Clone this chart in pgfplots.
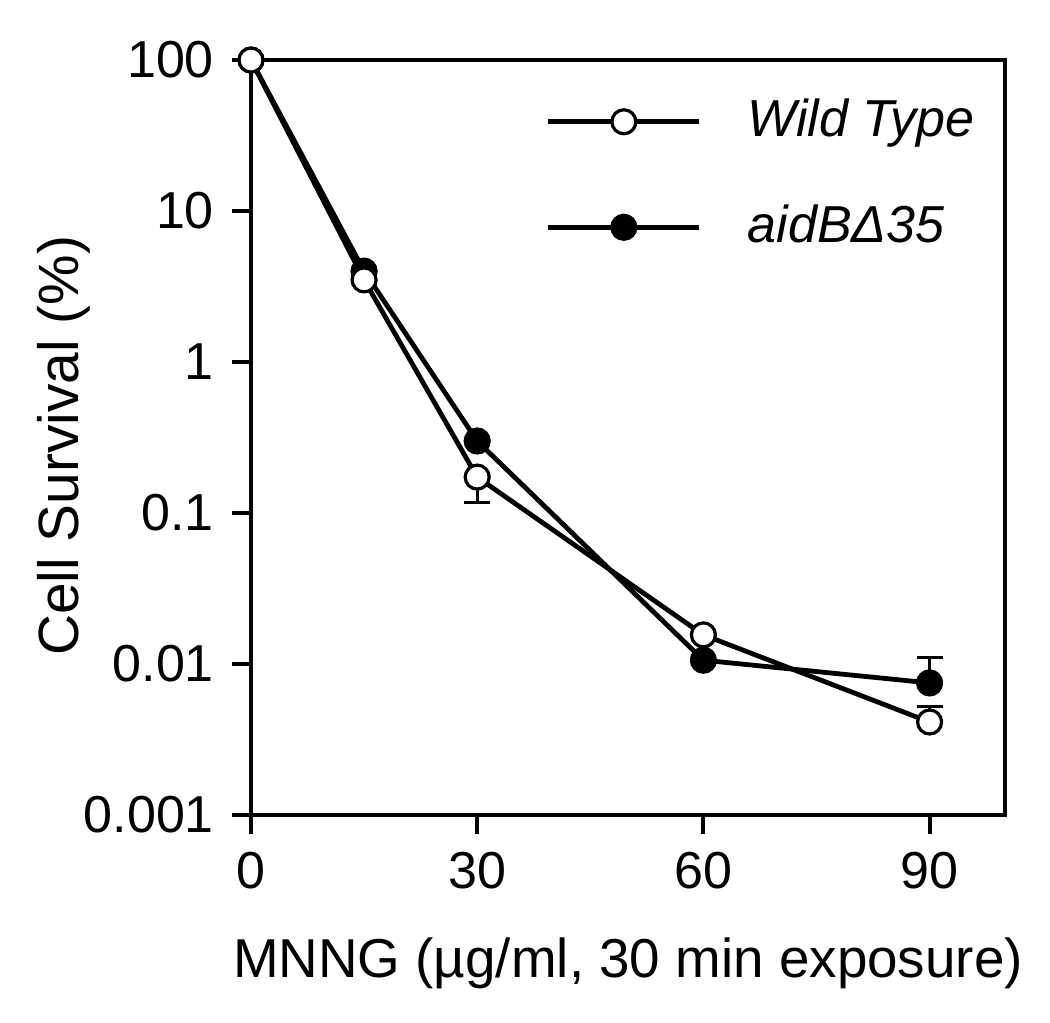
\documentclass[border=0pt]{standalone}
\usepackage{fontspec}
\setmainfont{Liberation Sans}
\usepackage{pgfplots}
\pgfplotsset{compat=1.18}
\begin{document}
\fontsize{13}{15.6}\selectfont
\begin{tikzpicture}
\useasboundingbox (-62.75pt,-51.75pt) rectangle (199.75pt,203.75pt);
\begin{axis}[
  at={(0pt,0pt)}, anchor=south west,
  scale only axis, width=188.5pt, height=188.75pt,
  xmin=0, xmax=100, ymode=log, ymin=0.001, ymax=100,
  log basis y=10,
  xtick={0,30,60,90},
  ytick={0.001,0.01,0.1,1,10,100},
  yticklabels={0.001,0.01,0.1,1,10,100},
  minor ytick={}, minor xtick={},
  tick pos=left, tick align=outside,
  major tick length=4.75pt,
  axis line style={line width=1pt},
  every tick/.style={black, line width=1pt},
  /pgf/number format/assume math mode=true,
  xlabel={MNNG (µg/ml, 30 min exposure)},
  ylabel={Cell Survival (\%)},
  x label style={at={(axis description cs:0.5,-0.2146)}, anchor=base, font=\fontsize{13.7}{16}\selectfont},
  y label style={at={(axis description cs:-0.229,0.489)}, anchor=base, font=\fontsize{14.2}{17}\selectfont},
  legend style={at={(axis description cs:0.39,0.96)}, anchor=north west,
    draw=none, fill=none, inner sep=0pt, row sep=11pt, font=\itshape},
  legend cell align=left,
  legend image code/.code={\draw[mark repeat=2,mark phase=2,#1] plot coordinates {(0pt,0pt) (18.9pt,0pt) (37.75pt,0pt)}; \path (47.25pt,0pt);},
]
% error bars
\addplot[forget plot, draw=none, mark=none, error bars/.cd, y dir=minus, y explicit,
  error bar style={draw=black, line width=0.75pt},
  error mark options={rotate=90, mark size=3.25pt, line width=0.75pt, black}]
  coordinates {(30,0.173) +- (0,0.055)};
\addplot[forget plot, draw=none, mark=none, error bars/.cd, y dir=plus, y explicit,
  error bar style={draw=black, line width=0.75pt},
  error mark options={rotate=90, mark size=3.25pt, line width=0.75pt, black}]
  coordinates {(90,0.0075) +- (0,0.0035) (90,0.00413) +- (0,0.0011)};
% aidB (filled) drawn first
\addplot[black, line width=1.2pt, mark=*, mark size=3pt, mark options={fill=black, line width=0.8pt}, forget plot]
  coordinates {(0,100) (15,4.0) (30,0.30) (60,0.0106) (90,0.0075)};
\addplot[black, line width=1.2pt, mark=*, mark size=3pt, mark options={fill=white, line width=0.8pt}]
  coordinates {(0,100) (15,3.5) (30,0.173) (60,0.0156) (90,0.00413)};
\addlegendentry{Wild Type}
\addlegendimage{black, line width=1.2pt, mark=*, mark size=3pt, mark options={fill=black, line width=0.8pt}}
\addlegendentry{aidBΔ35}
\end{axis}
\end{tikzpicture}
\end{document}
